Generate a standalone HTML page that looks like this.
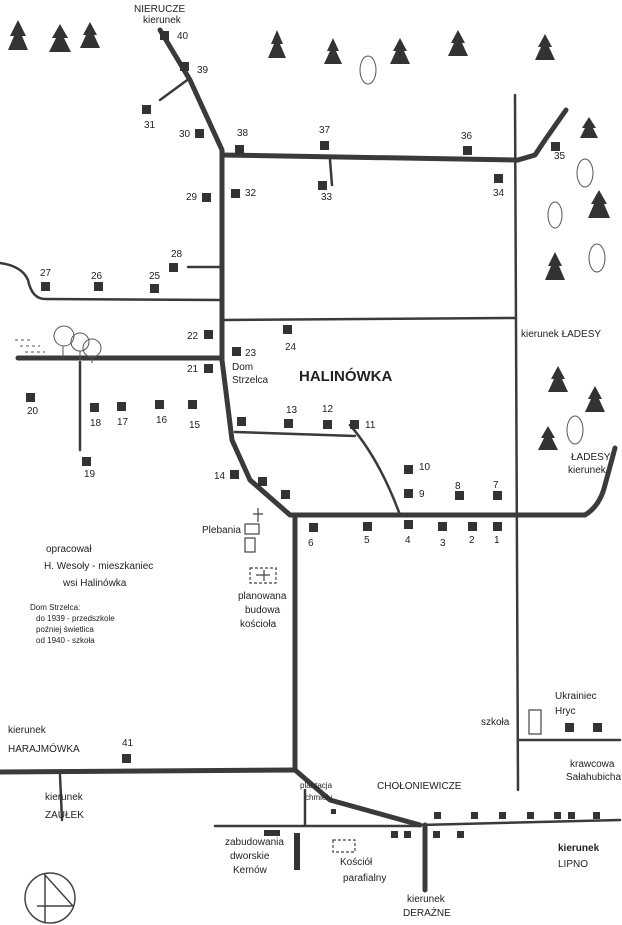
<!DOCTYPE html>
<html><head><meta charset="utf-8"><style>
html,body{margin:0;padding:0;background:#fff}
svg{display:block}
text{font-family:"Liberation Sans",sans-serif;font-size:10px;fill:#222}
.s text{font-size:8px}
</style></head><body>
<svg width="622" height="925" viewBox="0 0 622 925" xmlns="http://www.w3.org/2000/svg">
<g fill="none" stroke="#3a3a3a" stroke-linecap="round" stroke-linejoin="round">
<g stroke-width="5">
<path d="M160,30 L190,80 L222,150 L222,360 L232,440 L250,480 L290,515 L585,515 Q600,506 605,485 L615,448"/>
<path d="M222,155 L518,160 L535,155 L545,140 L566,110"/>
<path d="M18,358 L222,358"/>
<path d="M295,515 L295,770 L330,800 L420,825"/>
<path d="M0,772 L295,770"/>
<path d="M425,825 L425,890"/>
</g>
<g stroke-width="2.5">
<path d="M190,78 L160,100"/>
<path d="M515,95 L518,790"/>
<path d="M330,160 L332,185"/>
<path d="M0,263 Q22,266 28,280 Q32,299 45,299 L222,300"/>
<path d="M188,267 L222,267"/>
<path d="M222,320 L515,318"/>
<path d="M80,362 L80,450"/>
<path d="M235,432 L355,436"/>
<path d="M350,425 Q380,460 400,515"/>
<path d="M518,740 L620,740"/>
<path d="M60,775 L62,820"/>
<path d="M420,825 L620,820"/>
<path d="M215,826 L420,826"/>
<path d="M305,790 L305,825"/>
</g>
</g>
<g fill="#333">
<rect x="160" y="31" width="9" height="9"/><rect x="180" y="62" width="9" height="9"/>
<rect x="142" y="105" width="9" height="9"/><rect x="195" y="129" width="9" height="9"/>
<rect x="235" y="145" width="9" height="9"/><rect x="320" y="141" width="9" height="9"/>
<rect x="463" y="146" width="9" height="9"/><rect x="551" y="142" width="9" height="9"/>
<rect x="494" y="174" width="9" height="9"/><rect x="318" y="181" width="9" height="9"/>
<rect x="231" y="189" width="9" height="9"/><rect x="202" y="193" width="9" height="9"/>
<rect x="169" y="263" width="9" height="9"/><rect x="41" y="282" width="9" height="9"/>
<rect x="94" y="282" width="9" height="9"/><rect x="150" y="284" width="9" height="9"/>
<rect x="204" y="330" width="9" height="9"/><rect x="232" y="347" width="9" height="9"/>
<rect x="283" y="325" width="9" height="9"/><rect x="204" y="364" width="9" height="9"/>
<rect x="26" y="393" width="9" height="9"/><rect x="90" y="403" width="9" height="9"/>
<rect x="117" y="402" width="9" height="9"/><rect x="155" y="400" width="9" height="9"/>
<rect x="188" y="400" width="9" height="9"/><rect x="82" y="457" width="9" height="9"/>
<rect x="237" y="417" width="9" height="9"/><rect x="284" y="419" width="9" height="9"/>
<rect x="323" y="420" width="9" height="9"/><rect x="350" y="420" width="9" height="9"/>
<rect x="230" y="470" width="9" height="9"/><rect x="258" y="477" width="9" height="9"/>
<rect x="281" y="490" width="9" height="9"/><rect x="404" y="465" width="9" height="9"/>
<rect x="404" y="489" width="9" height="9"/><rect x="455" y="491" width="9" height="9"/>
<rect x="493" y="491" width="9" height="9"/><rect x="309" y="523" width="9" height="9"/>
<rect x="363" y="522" width="9" height="9"/><rect x="404" y="520" width="9" height="9"/>
<rect x="438" y="522" width="9" height="9"/><rect x="468" y="522" width="9" height="9"/>
<rect x="493" y="522" width="9" height="9"/><rect x="122" y="754" width="9" height="9"/>
<rect x="565" y="723" width="9" height="9"/><rect x="593" y="723" width="9" height="9"/>
<rect x="434" y="812" width="7" height="7"/><rect x="471" y="812" width="7" height="7"/>
<rect x="499" y="812" width="7" height="7"/><rect x="527" y="812" width="7" height="7"/>
<rect x="554" y="812" width="7" height="7"/><rect x="568" y="812" width="7" height="7"/>
<rect x="593" y="812" width="7" height="7"/>
<rect x="391" y="831" width="7" height="7"/><rect x="404" y="831" width="7" height="7"/>
<rect x="433" y="831" width="7" height="7"/><rect x="457" y="831" width="7" height="7"/>
<rect x="264" y="830" width="16" height="6"/><rect x="294" y="833" width="6" height="37"/>
<rect x="331" y="809" width="5" height="5"/>
</g>
<g fill="none" stroke="#444" stroke-width="1.2">
<rect x="529" y="710" width="12" height="24"/>
<rect x="245" y="524" width="14" height="10"/><rect x="245" y="538" width="10" height="14"/>
<path d="M258,508 L258,522 M253,514 L263,514"/>
<rect x="250" y="568" width="26" height="15" stroke-dasharray="3,2"/>
<path d="M256,575 L270,575 M264,570 L264,581"/>
<rect x="333" y="840" width="22" height="12" stroke-dasharray="3,2"/>
<circle cx="50" cy="898" r="25" stroke-width="1.5"/>
<path d="M45,873 L45,923 M37,906 L74,906 M45,875 L73,906" stroke-width="1.5"/>
</g>
<!-- trees -->
<g fill="#333">
<path d="M18,20 L10,36 L14,36 L8,50 L28,50 L22,36 L26,36 Z"/>
<path d="M60,24 L52,38 L56,38 L49,52 L71,52 L64,38 L68,38 Z"/>
<path d="M90,22 L83,35 L86,35 L80,48 L100,48 L94,35 L97,35 Z"/>
<path d="M277,30 L271,44 L274,44 L268,58 L286,58 L280,44 L283,44 Z"/>
<path d="M333,38 L327,51 L330,51 L324,64 L342,64 L336,51 L339,51 Z"/>
<path d="M400,38 L393,51 L396,51 L390,64 L410,64 L404,51 L407,51 Z"/>
<path d="M458,30 L451,43 L454,43 L448,56 L468,56 L462,43 L465,43 Z"/>
<path d="M545,34 L538,47 L541,47 L535,60 L555,60 L549,47 L552,47 Z"/>
<path d="M589,117 L582,128 L585,128 L580,138 L598,138 L593,128 L596,128 Z"/>
<path d="M599,190 L591,204 L594,204 L588,218 L610,218 L604,204 L607,204 Z"/>
<path d="M555,252 L548,266 L551,266 L545,280 L565,280 L559,266 L562,266 Z"/>
<path d="M558,366 L551,379 L554,379 L548,392 L568,392 L562,379 L565,379 Z"/>
<path d="M595,386 L588,399 L591,399 L585,412 L605,412 L599,399 L602,399 Z"/>
<path d="M548,426 L541,438 L544,438 L538,450 L558,450 L552,438 L555,438 Z"/>
</g>
<g fill="none" stroke="#555" stroke-width="1">
<ellipse cx="368" cy="70" rx="8" ry="14"/><ellipse cx="585" cy="173" rx="8" ry="14"/>
<ellipse cx="555" cy="215" rx="7" ry="13"/><ellipse cx="597" cy="258" rx="8" ry="14"/>
<ellipse cx="575" cy="430" rx="8" ry="14"/><circle cx="64" cy="336" r="10"/><circle cx="80" cy="342" r="9"/><circle cx="92" cy="348" r="9"/>
<path d="M63,346 L63,358 M80,351 L80,360 M92,357 L92,363"/>
<path d="M15,340 L30,340 M20,346 L40,346 M25,352 L45,352" stroke-dasharray="3,3"/>
</g>
<g>
<text x="134" y="12">NIERUCZE</text><text x="143" y="23">kierunek</text>
<text x="177" y="39">40</text><text x="197" y="73">39</text><text x="144" y="128">31</text>
<text x="179" y="137">30</text><text x="237" y="136">38</text><text x="319" y="133">37</text>
<text x="461" y="139">36</text><text x="554" y="159">35</text><text x="493" y="196">34</text>
<text x="321" y="200">33</text><text x="245" y="196">32</text><text x="186" y="200">29</text>
<text x="171" y="257">28</text><text x="40" y="276">27</text><text x="91" y="279">26</text>
<text x="149" y="279">25</text><text x="187" y="339">22</text><text x="245" y="356">23</text>
<text x="285" y="350">24</text><text x="187" y="372">21</text><text x="27" y="414">20</text>
<text x="90" y="426">18</text><text x="117" y="425">17</text><text x="156" y="423">16</text>
<text x="189" y="428">15</text><text x="84" y="477">19</text>
<text x="232" y="370">Dom</text><text x="232" y="383">Strzelca</text>
<text x="286" y="413">13</text><text x="322" y="412">12</text><text x="365" y="428">11</text>
<text x="214" y="479">14</text><text x="419" y="470">10</text><text x="419" y="497">9</text>
<text x="455" y="489">8</text><text x="493" y="488">7</text>
<text x="308" y="546">6</text><text x="364" y="543">5</text><text x="405" y="543">4</text>
<text x="440" y="546">3</text><text x="469" y="543">2</text><text x="494" y="543">1</text>
<text x="122" y="746">41</text>
<text x="521" y="337">kierunek  ŁADESY</text>
<text x="299" y="381" style="font-size:15px;font-weight:bold">HALINÓWKA</text>
<text x="571" y="460">ŁADESY</text><text x="568" y="473">kierunek</text>
<text x="46" y="552">opracował</text><text x="44" y="569">H. Wesoły - mieszkaniec</text>
<text x="63" y="586">wsi Halinówka</text>
<text x="202" y="533">Plebania</text>
<text x="238" y="599">planowana</text><text x="245" y="613">budowa</text><text x="240" y="627">kościoła</text>
<text x="555" y="699">Ukrainiec</text><text x="555" y="714">Hryc</text>
<text x="481" y="725">szkoła</text>
<text x="570" y="767">krawcowa</text><text x="566" y="780">Sałahubicha</text>
<text x="8" y="733">kierunek</text><text x="8" y="752">HARAJMÓWKA</text>
<text x="377" y="789">CHOŁONIEWICZE</text>
<text x="45" y="800">kierunek</text><text x="45" y="818">ZAUŁEK</text>
<text x="225" y="845">zabudowania</text><text x="230" y="859">dworskie</text><text x="233" y="873">Kernów</text>
<text x="340" y="865">Kościół</text><text x="343" y="881">parafialny</text>
<text x="558" y="851" style="font-weight:bold">kierunek</text><text x="558" y="867">LIPNO</text>
<text x="407" y="902">kierunek</text><text x="403" y="916">DERAŻNE</text>
</g>
<g class="s">
<text x="30" y="610">Dom Strzelca:</text><text x="36" y="621">do 1939 - przedszkole</text>
<text x="36" y="632">poźniej świetlica</text><text x="36" y="643">od 1940 - szkoła</text>
<text x="300" y="788">plantacja</text><text x="305" y="800">chmielu</text>
</g>
</svg>
</body></html>
